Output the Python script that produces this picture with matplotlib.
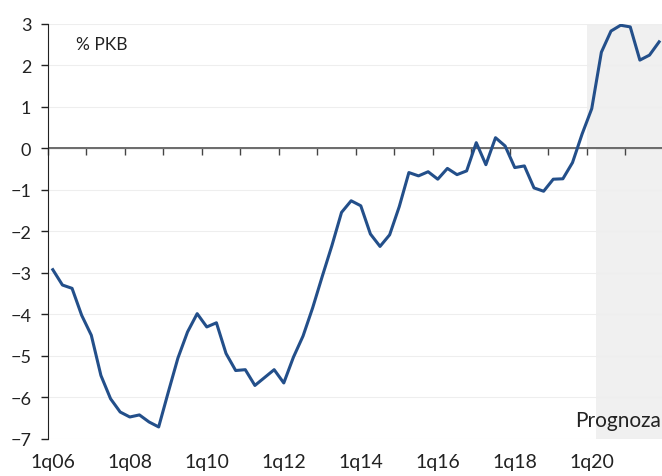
import matplotlib.pyplot as plt
import numpy as np

plt.rcParams['font.family'] = ['Lato', 'DejaVu Sans']

# quarterly values, 1q06 .. 4q21 (forecast from 1q20)
quarters = [f'{q}q{y:02d}' for y in range(6, 22) for q in range(1, 5)]
values = [-2.92, -3.29, -3.37, -4.02, -4.50, -5.47, -6.03, -6.35,
          -6.47, -6.42, -6.59, -6.71, -5.87, -5.05, -4.42, -3.98,
          -4.30, -4.20, -4.94, -5.35, -5.33, -5.71, -5.52, -5.33,
          -5.65, -5.03, -4.52, -3.84, -3.08, -2.34, -1.54, -1.26,
          -1.38, -2.06, -2.36, -2.08, -1.40, -0.58, -0.66, -0.56,
          -0.74, -0.48, -0.63, -0.54, 0.14, -0.39, 0.26, 0.06,
          -0.46, -0.42, -0.95, -1.03, -0.74, -0.73, -0.34, 0.35,
          0.96, 2.32, 2.83, 2.97, 2.93, 2.13, 2.25, 2.57]
forecast_start = '1q20'

x = np.arange(len(quarters))
fc = quarters.index(forecast_start)

fig = plt.figure(figsize=(6.62, 4.77), dpi=100)
ax = fig.add_axes([0.0725, 0.0776, 0.9275, 0.87])

ymin, ymax = -7, 3
ax.set_ylim(ymin, ymax)
ax.set_xlim(-0.5, 63.3)

# forecast shading (upper and lower parts offset slightly)
zf = (0 - ymin) / (ymax - ymin)
ax.axvspan(fc - 0.5, 64, ymin=zf, ymax=1, color='#f0f0f0', lw=0, zorder=0)
ax.axvspan(fc + 0.4, 64, ymin=0, ymax=zf, color='#f0f0f0', lw=0, zorder=0)

ax.set_yticks(range(ymin, ymax + 1))
ax.yaxis.grid(True, color='#eeeeee', lw=0.8, zorder=0)
ax.set_axisbelow(True)

ax.axhline(0, color='#555555', lw=1.2, zorder=2)
ax.plot(x, values, color='#234f8a', lw=2.2, zorder=3)

# category labels every two years, no tick marks at the bottom
ax.set_xticks(x[::8])
ax.set_xticklabels(quarters[::8])
ax.tick_params(axis='x', length=0, pad=10, labelsize=14, colors='#222222')
ax.tick_params(axis='y', length=5, width=1, pad=7, labelsize=13,
               colors='#222222', direction='out')

for s in ['top', 'right', 'bottom']:
    ax.spines[s].set_visible(False)
ax.spines['left'].set_color('#222222')

# yearly tick marks hanging from the zero line
zero_ax = ax.secondary_xaxis(zf)
zero_ax.xaxis.set_ticks_position('bottom')
zero_ax.set_xticks(np.arange(-0.5, 64, 4))
zero_ax.set_xticklabels([])
zero_ax.tick_params(axis='x', direction='out', length=5, width=1,
                    color='#444444')
zero_ax.spines['bottom'].set_visible(False)

ax.text(0.045, 0.97, '% PKB', transform=ax.transAxes, fontsize=12.5,
        color='#222222', va='top', ha='left')
ax.text(0.998, 0.022, 'Prognoza', transform=ax.transAxes, fontsize=15,
        color='#222222', va='bottom', ha='right')

fig.savefig('out.png', dpi=100)
